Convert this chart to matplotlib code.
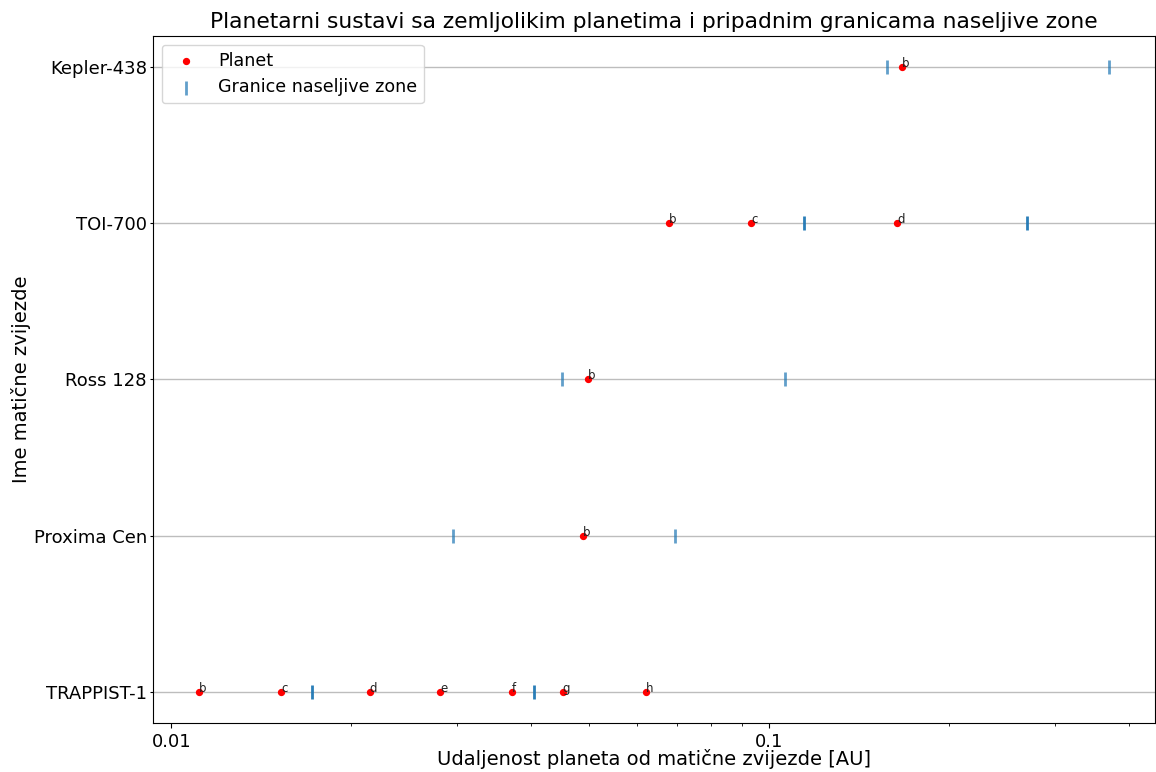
import numpy as np
import matplotlib
matplotlib.use("Agg")
import matplotlib.pyplot as plt
from matplotlib.ticker import FormatStrFormatter, NullFormatter

# Zvijezde (odozdo prema gore)
zvijezde = ['TRAPPIST-1', 'Proxima Cen', 'Ross 128', 'TOI-700', 'Kepler-438']

# Planeti: udaljenost u AU i oznaka planeta
trappist_a = [0.01110, 0.01525, 0.02145, 0.02815, 0.03710, 0.04510, 0.06220]
trappist_ime = ['b', 'c', 'd', 'e', 'f', 'g', 'h']
proxima_a = [0.04870]
proxima_ime = ['b']
ross_a = [0.04966]
ross_ime = ['b']
toi_a = [0.06790, 0.09316, 0.16370]
toi_ime = ['b', 'c', 'd']
kepler_a = [0.16650]
kepler_ime = ['b']

# Granice naseljive zone [unutarnja, vanjska]
trappist_hz = [0.01715, 0.04040]
proxima_hz = [0.02952, 0.06954]
ross_hz = [0.04496, 0.10630]
toi_hz = [0.11440, 0.26930]
kepler_hz = [0.15700, 0.37030]

planeti = [trappist_a, proxima_a, ross_a, toi_a, kepler_a]
imena = [trappist_ime, proxima_ime, ross_ime, toi_ime, kepler_ime]
granice = [trappist_hz, proxima_hz, ross_hz, toi_hz, kepler_hz]

fig, ax = plt.subplots(figsize=(11.56, 7.72), dpi=100)
fig.subplots_adjust(left=0.1324, right=0.999, top=0.9534, bottom=0.0635)

x_pl, y_pl = [], []
for i, z in enumerate(zvijezde):
    x_pl += planeti[i]
    y_pl += [i] * len(planeti[i])

ax.scatter(x_pl, y_pl, color='red', s=18, zorder=3, label='Planet')

# HZ granice: sustavi s vise planeta su tamniji
x_hz_svijetlo, y_hz_svijetlo, x_hz_tamno, y_hz_tamno = [], [], [], []
for i, z in enumerate(zvijezde):
    if len(planeti[i]) > 1:
        x_hz_tamno += granice[i]
        y_hz_tamno += [i] * 2
    else:
        x_hz_svijetlo += granice[i]
        y_hz_svijetlo += [i] * 2

ax.scatter(x_hz_svijetlo, y_hz_svijetlo, marker='|', s=90, linewidths=2,
           color='tab:blue', alpha=0.7, zorder=3, label='Granice naseljive zone')
ax.scatter(x_hz_tamno, y_hz_tamno, marker='|', s=90, linewidths=2,
           color='tab:blue', alpha=0.95, zorder=3)

# Oznake planeta
for i in range(len(zvijezde)):
    for a, ime in zip(planeti[i], imena[i]):
        ax.text(a, i, ime, fontsize=8.5, color='#222222')

ax.set_xscale('log')
ax.xaxis.set_major_formatter(FormatStrFormatter('%g'))
ax.xaxis.set_minor_formatter(NullFormatter())
ax.set_yticks(range(len(zvijezde)))
ax.set_yticklabels(zvijezde)
ax.set_ylim(-0.2, 4.2)
ax.grid(axis='y', color='#bdbdbd', linewidth=1)
ax.set_axisbelow(True)

ax.tick_params(axis='both', labelsize=13)
ax.tick_params(axis='y', length=2.5, pad=2)
ax.set_title('Planetarni sustavi sa zemljolikim planetima i pripadnim granicama naseljive zone', fontsize=15.7)
ax.set_xlabel('Udaljenost planeta od matične zvijezde [AU]', fontsize=14, labelpad=-1)
ax.set_ylabel('Ime matične zvijezde', fontsize=14, labelpad=2)
ax.legend(loc='upper left', fontsize=12.6)

plt.savefig('out.png')
